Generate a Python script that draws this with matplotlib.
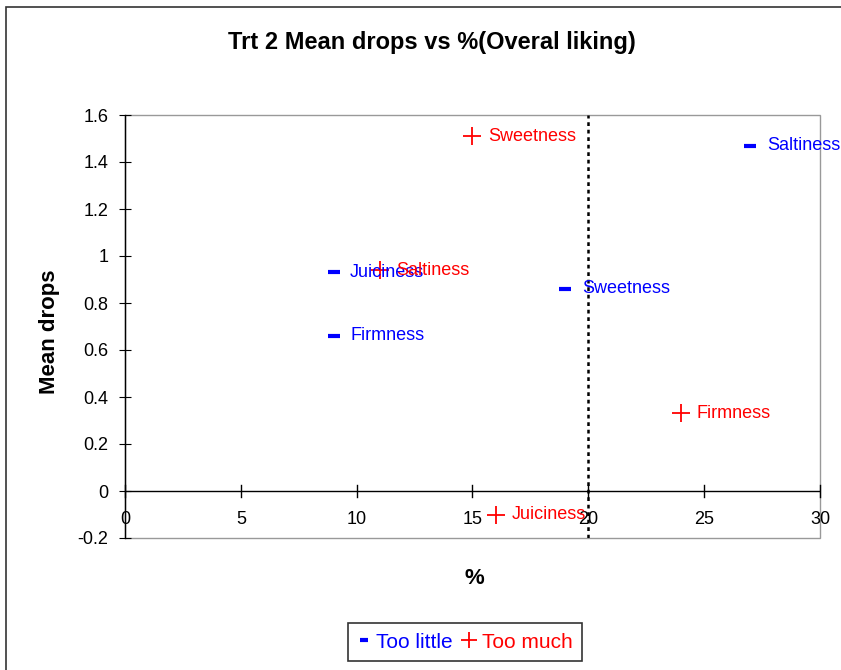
"""Mean drops vs % scatter (Trt 2, overall liking)."""

import matplotlib

matplotlib.use("Agg")
import matplotlib.pyplot as plt
from matplotlib.patches import Rectangle

plt.rcParams["font.family"] = ["Liberation Sans", "DejaVu Sans"]

attributes = ["Juiciness", "Firmness", "Sweetness", "Saltiness"]
little_pct = [9, 9, 19, 27]
little_drops = [0.93, 0.66, 0.86, 1.47]
much_attrs = ["Sweetness", "Saltiness", "Firmness", "Juiciness"]
much_pct = [15, 11, 24, 16]
much_drops = [1.51, 0.94, 0.33, -0.10]
cutoff_pct = 20

BLUE = "#0000ff"
RED = "#ff0000"
FS = 13

fig = plt.figure(figsize=(8.41, 6.70), dpi=100)
# outer chart frame (cut off at right/bottom like the original)
fig.patches.append(Rectangle((6 / 841, -0.1), 2.0, 1 - 7 / 670 + 0.1,
                             transform=fig.transFigure, fill=False,
                             edgecolor="#333333", linewidth=1.2))

ax = fig.add_axes([125 / 841, 132 / 670, 695 / 841, 423 / 670])
ax.set_xlim(0, 30)
ax.set_ylim(-0.2, 1.6)

for side in ["top", "right", "bottom"]:
    ax.spines[side].set_visible(False)
ax.spines["left"].set_color("black")
ax.spines["left"].set_linewidth(1.0)
# gray plot-area border
ax.add_patch(Rectangle((0, 0), 1, 1, transform=ax.transAxes, fill=False,
                       edgecolor="#999999", linewidth=1.0, zorder=0,
                       clip_on=False))
# x axis crossing at y = 0
ax.axhline(0, color="black", linewidth=1.0, zorder=1)

ax.set_xticks(range(0, 31, 5))
ax.set_yticks([-0.2, 0, 0.2, 0.4, 0.6, 0.8, 1, 1.2, 1.4, 1.6])
ax.set_yticklabels(["-0.2", "0", "0.2", "0.4", "0.6", "0.8", "1", "1.2", "1.4", "1.6"])
ax.tick_params(axis="y", direction="inout", length=8, labelsize=FS, pad=8)
ax.tick_params(axis="x", bottom=False, labelbottom=False)
for xv in range(0, 31, 5):
    ax.plot([xv, xv], [-0.025, 0.025], color="black", linewidth=1.0,
            clip_on=False, zorder=2)
    ax.text(xv, -0.123, str(xv), ha="center", va="center", fontsize=FS)

ax.axvline(cutoff_pct, color="black", linestyle=(0, (1.5, 1.5)), linewidth=1.8)

ax.plot(little_pct, little_drops, linestyle="none", marker="_", markersize=8,
        markeredgewidth=3, color=BLUE, label="Too little", clip_on=False)
ax.plot(much_pct, much_drops, linestyle="none", marker="+", markersize=13,
        markeredgewidth=1.3, color=RED, label="Too much", clip_on=False)

for name, xv, yv in zip(attributes, little_pct, little_drops):
    ax.annotate(name, (xv, yv), xytext=(12, 0), textcoords="offset points",
                va="center", fontsize=FS, color=BLUE, annotation_clip=False)
for name, xv, yv in zip(much_attrs, much_pct, much_drops):
    ax.annotate(name, (xv, yv), xytext=(11.5, 0), textcoords="offset points",
                va="center", fontsize=FS, color=RED, annotation_clip=False)

fig.text(432 / 841, 1 - 43 / 670, "Trt 2 Mean drops vs %(Overal liking)",
         ha="center", va="center", fontsize=17, fontweight="bold")
fig.text(49 / 841, 1 - 332 / 670, "Mean drops", rotation=90, ha="center",
         va="center", fontsize=16, fontweight="bold")
fig.text(474 / 841, 1 - 578 / 670, "%", ha="center", va="center",
         fontsize=16, fontweight="bold")

leg = fig.legend(loc="center", bbox_to_anchor=(465 / 841, 1 - 642 / 670),
                 ncol=2, frameon=True, fancybox=False, fontsize=15,
                 handlelength=0.6, handletextpad=0.3, columnspacing=0.5,
                 borderpad=0.45)
leg.get_frame().set_edgecolor("black")
leg.get_frame().set_linewidth(1.2)
for handle, size in zip(leg.legend_handles, [6, 11]):
    handle.set_markersize(size)
for text, col in zip(leg.get_texts(), [BLUE, RED]):
    text.set_color(col)

fig.savefig("out.png", dpi=100)
plt.close(fig)
